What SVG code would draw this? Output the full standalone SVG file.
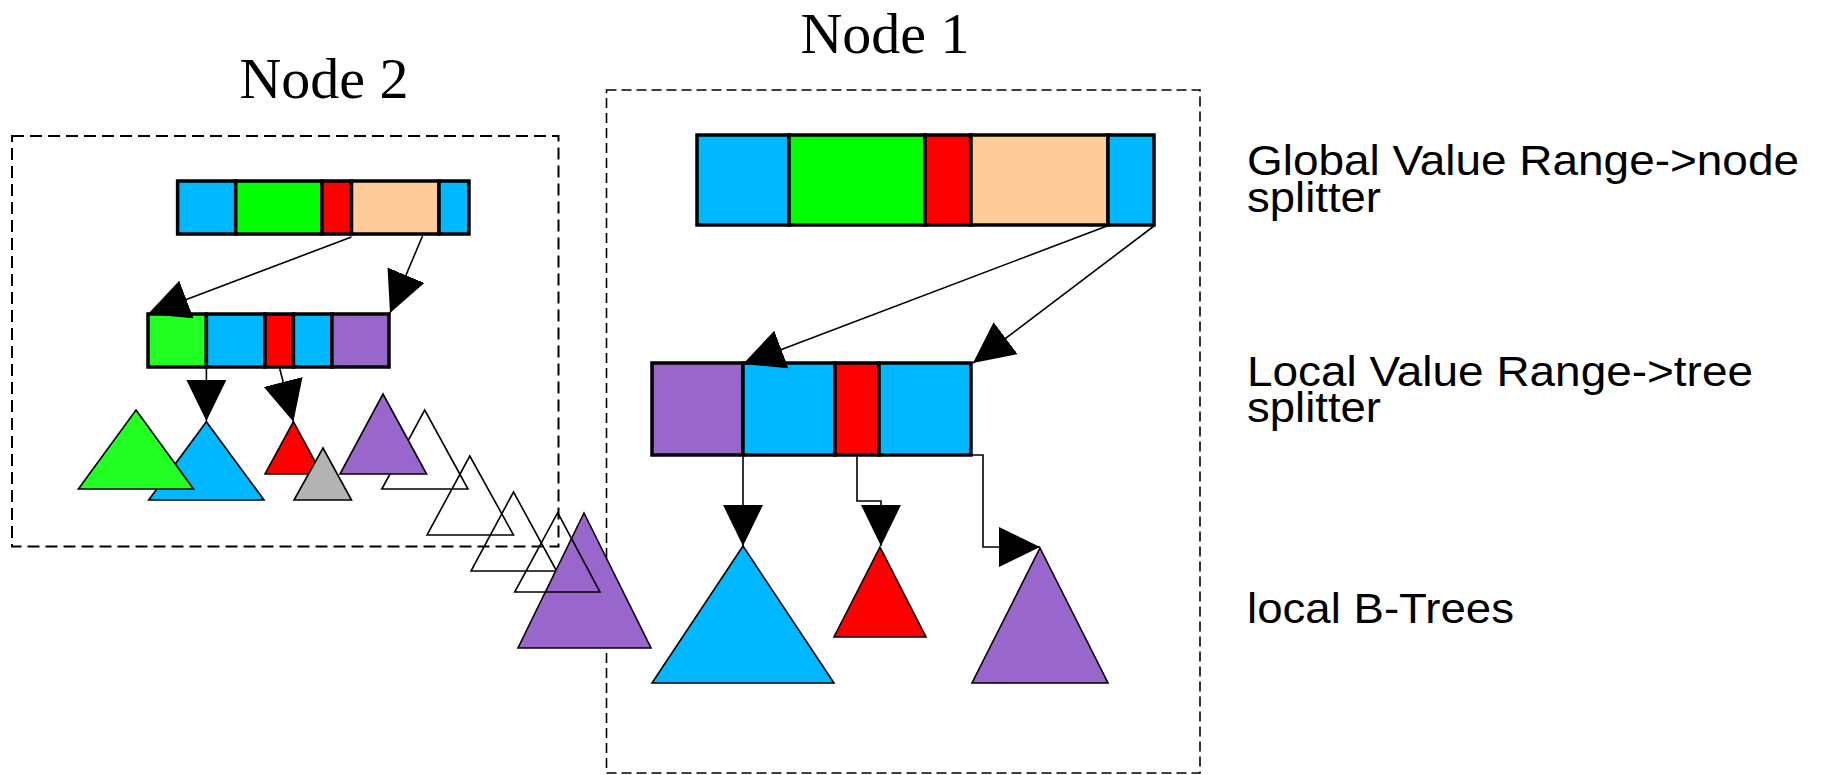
<svg xmlns="http://www.w3.org/2000/svg" width="1822" height="775" viewBox="0 0 1822 775">
<style>
.box{fill:none;stroke:#000;stroke-width:1.6;stroke-dasharray:10 5}
.box2{fill:none;stroke:#000;stroke-width:2;stroke-dasharray:12 6}
.seg{stroke:#000;stroke-width:3.5}
.tri{stroke:#000;stroke-width:1.6;stroke-linejoin:miter}
.out{fill:none;stroke:#000;stroke-width:1.6}
.con{fill:none;stroke:#000;stroke-width:1.6;marker-end:url(#ah)}
.lbl{font-family:"Liberation Sans",Arial,sans-serif;font-size:43px;fill:#000}
.ttl{font-family:"Liberation Serif","Times New Roman",serif;font-size:58px;fill:#000;text-anchor:middle}
.b{fill:#00B8FF}.g{fill:#00FF00}.g2{fill:#22FF22}.r{fill:#FF0000}.p{fill:#FFCC99}.v{fill:#9966CC}.gr{fill:#B3B3B3}
</style>
<defs>
<marker id="ah" markerUnits="userSpaceOnUse" markerWidth="42" markerHeight="42" refX="41" refY="20" orient="auto" viewBox="0 0 42 42">
<path d="M0,0 L41,20 L0,40 z" fill="#000"/>
</marker>
</defs>
<rect width="1822" height="775" fill="#fff"/>

<g id="node1-frame">
<rect class="box" x="606.5" y="90" width="593.5" height="683"/>
<text class="ttl" x="885" y="53">Node 1</text>
</g>
<g id="node2-frame">
<rect class="box2" x="12" y="136" width="546.5" height="410.5"/>
<text class="ttl" x="324" y="98">Node 2</text>
</g>

<g id="n1-global-splitter">
<rect class="seg b" x="697" y="135" width="92" height="90"/>
<rect class="seg g" x="789" y="135" width="136" height="90"/>
<rect class="seg r" x="925" y="135" width="46" height="90"/>
<rect class="seg p" x="971" y="135" width="137" height="90"/>
<rect class="seg b" x="1108" y="135" width="46" height="90"/>
</g>
<g id="n1-local-splitter">
<rect class="seg v" x="652" y="363" width="91" height="92"/>
<rect class="seg b" x="743" y="363" width="92" height="92"/>
<rect class="seg r" x="835" y="363" width="44" height="92"/>
<rect class="seg b" x="879" y="363" width="92" height="92"/>
</g>
<g id="n2-global-splitter">
<rect class="seg b" x="177.6" y="181" width="58.1" height="53"/>
<rect class="seg g" x="235.7" y="181" width="86.2" height="53"/>
<rect class="seg r" x="321.9" y="181" width="29.6" height="53"/>
<rect class="seg p" x="351.5" y="181" width="87.5" height="53"/>
<rect class="seg b" x="439" y="181" width="30" height="53"/>
</g>
<g id="n2-local-splitter">
<rect class="seg g2" x="148" y="314" width="58.4" height="53"/>
<rect class="seg b" x="206.4" y="314" width="58.6" height="53"/>
<rect class="seg r" x="265" y="314" width="28.4" height="53"/>
<rect class="seg b" x="293.4" y="314" width="38.5" height="53"/>
<rect class="seg v" x="331.9" y="314" width="57.1" height="53"/>
</g>

<g id="n2-trees">
<polygon class="tri b" points="206.4,421.7 264,500 148.7,500"/>
<polygon class="tri g2" points="136,410 193.5,489 78.4,489"/>
<polygon class="tri r" points="293.4,421.7 321.8,474 265,474"/>
<polygon class="tri gr" points="323,448 351.5,500 294,500"/>
<polygon class="out" points="424.7,410 468,489 381.8,489"/>
<polygon class="tri v" points="383,394 426.6,474 340,474"/>
</g>
<g id="migrating-trees">
<polygon class="out" points="469.8,456 513.5,535 427,535"/>
<polygon class="out" points="513.5,492 556.6,571 471,571"/>
<polygon class="tri v" points="584,513 651,648 518,648"/>
<polygon class="out" points="557.7,512.7 600,592 514.7,592"/>
</g>
<g id="n1-trees">
<polygon class="tri b" points="743,546 834,683 652,683"/>
<polygon class="tri r" points="880,547 926,637 834,637"/>
<polygon class="tri v" points="1040,548 1108,683 972,683"/>
</g>

<g id="connectors">
<path class="con" d="M1107,226 L743,364"/>
<path class="con" d="M1154,226 L973,363"/>
<path class="con" d="M743,455 L743,546"/>
<path class="con" d="M857,455 L857,501 L881,501 L881,546"/>
<path class="con" d="M972,455 L983,455 L983,547 L1040,547"/>
<path class="con" d="M351.5,237 L148,314"/>
<path class="con" d="M422.5,236 L390,313"/>
<path class="con" d="M206.4,367 L206.4,421"/>
<path class="con" d="M279.3,367 L293.4,421.7"/>
</g>

<g id="labels">
<text class="lbl"><tspan x="1247" y="175" textLength="552" lengthAdjust="spacingAndGlyphs">Global Value Range-&gt;node</tspan><tspan x="1247" y="212" textLength="134" lengthAdjust="spacingAndGlyphs">splitter</tspan></text>
<text class="lbl"><tspan x="1247" y="386" textLength="506" lengthAdjust="spacingAndGlyphs">Local Value Range-&gt;tree</tspan><tspan x="1247" y="422" textLength="134" lengthAdjust="spacingAndGlyphs">splitter</tspan></text>
<text class="lbl" x="1247" y="623" textLength="267" lengthAdjust="spacingAndGlyphs">local B-Trees</text>
</g>
</svg>
